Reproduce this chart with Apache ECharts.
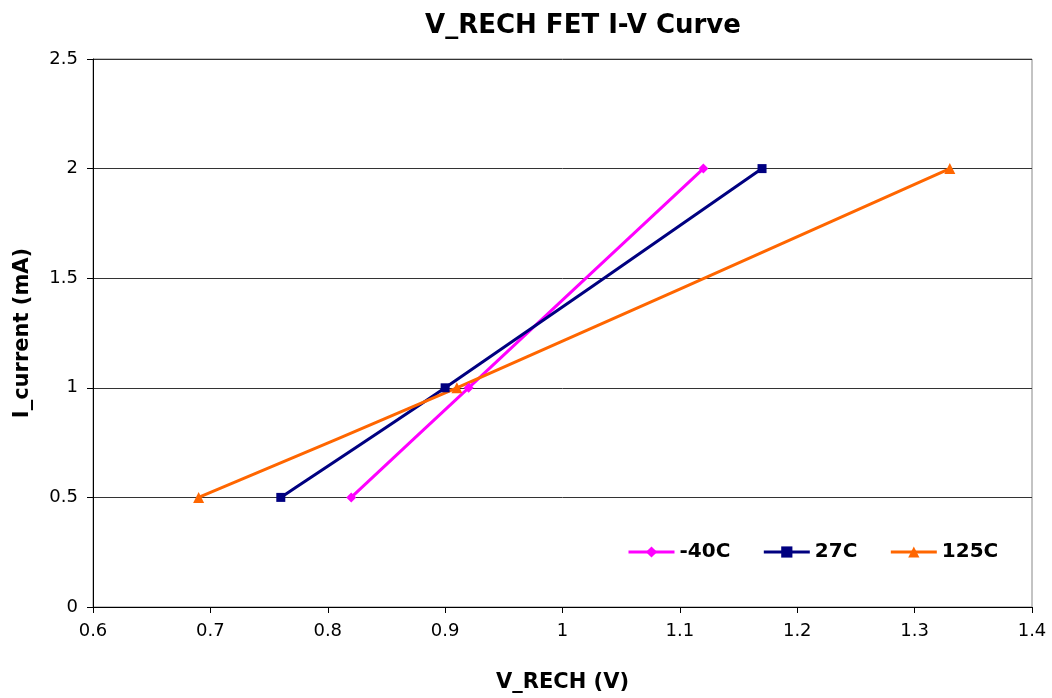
<!DOCTYPE html>
<html><head><meta charset="utf-8">
<script src="https://cdn.jsdelivr.net/npm/echarts@6/dist/echarts.min.js"></script>
<style>html,body{margin:0;padding:0;background:#fff}#c{width:1052px;height:698px}</style>
</head><body><div id="c"></div>
<script>
const seriesNames = ['-40C', '27C', '125C'];
const vM40 = [0.82, 0.92, 1.12];
const v27 = [0.76, 0.90, 1.17];
const v125 = [0.69, 0.91, 1.33];
const current = [0.5, 1.0, 2.0];
const colors = ['#FF00FF', '#000080', '#FF6600'];
const symbols = ['diamond', 'rect', 'triangle'];
const symSizes = [10, 9, 11];
const xs = [vM40, v27, v125];

const chart = echarts.init(document.getElementById('c'));
const font = 'DejaVu Sans, sans-serif';
chart.setOption({
  animation: false,
  title: { text: 'V_RECH FET I-V Curve', left: 578, textAlign: 'center', top: 8,
    textStyle: { fontFamily: font, fontSize: 26, fontWeight: 'bold', color: '#000' } },
  grid: { left: 93, right: 20, top: 59, bottom: 89, show: true, borderColor: '#888', borderWidth: 1 },
  legend: {
    data: seriesNames, left: 622, top: 537, itemWidth: 46, itemHeight: 14, itemGap: 32,
    lineStyle: { width: 3 },
    textStyle: { fontFamily: font, fontSize: 20, fontWeight: 'bold', color: '#000' }
  },
  xAxis: {
    type: 'value', min: 0.6, max: 1.4, interval: 0.1,
    name: 'V_RECH (V)', nameLocation: 'middle', nameGap: 65,
    nameTextStyle: { fontFamily: font, fontSize: 21, fontWeight: 'bold', color: '#000' },
    axisLine: { show: true, onZero: false, lineStyle: { color: '#000', width: 1 } },
    axisTick: { show: true, length: 6, lineStyle: { color: '#000' } },
    axisLabel: { fontFamily: font, fontSize: 18, color: '#000', margin: 15, formatter: v => String(+v.toFixed(1)) },
    splitLine: { show: false }
  },
  yAxis: {
    type: 'value', min: 0, max: 2.5, interval: 0.5,
    name: 'I_current (mA)', nameLocation: 'middle', nameGap: 60,
    nameTextStyle: { fontFamily: font, fontSize: 21, fontWeight: 'bold', color: '#000' },
    axisLine: { show: true, lineStyle: { color: '#000', width: 1 } },
    axisTick: { show: true, length: 6, lineStyle: { color: '#000' } },
    axisLabel: { fontFamily: font, fontSize: 18, color: '#000', margin: 15 },
    splitLine: { show: true, lineStyle: { color: '#333', width: 1 } }
  },
  series: seriesNames.map((n, i) => ({
    name: n, type: 'line', smooth: 0.25,
    data: xs[i].map((x, j) => [x, current[j]]),
    symbol: symbols[i], symbolSize: symSizes[i], showAllSymbol: true,
    itemStyle: { color: colors[i] },
    lineStyle: { color: colors[i], width: 3 }
  }))
});
</script></body></html>
